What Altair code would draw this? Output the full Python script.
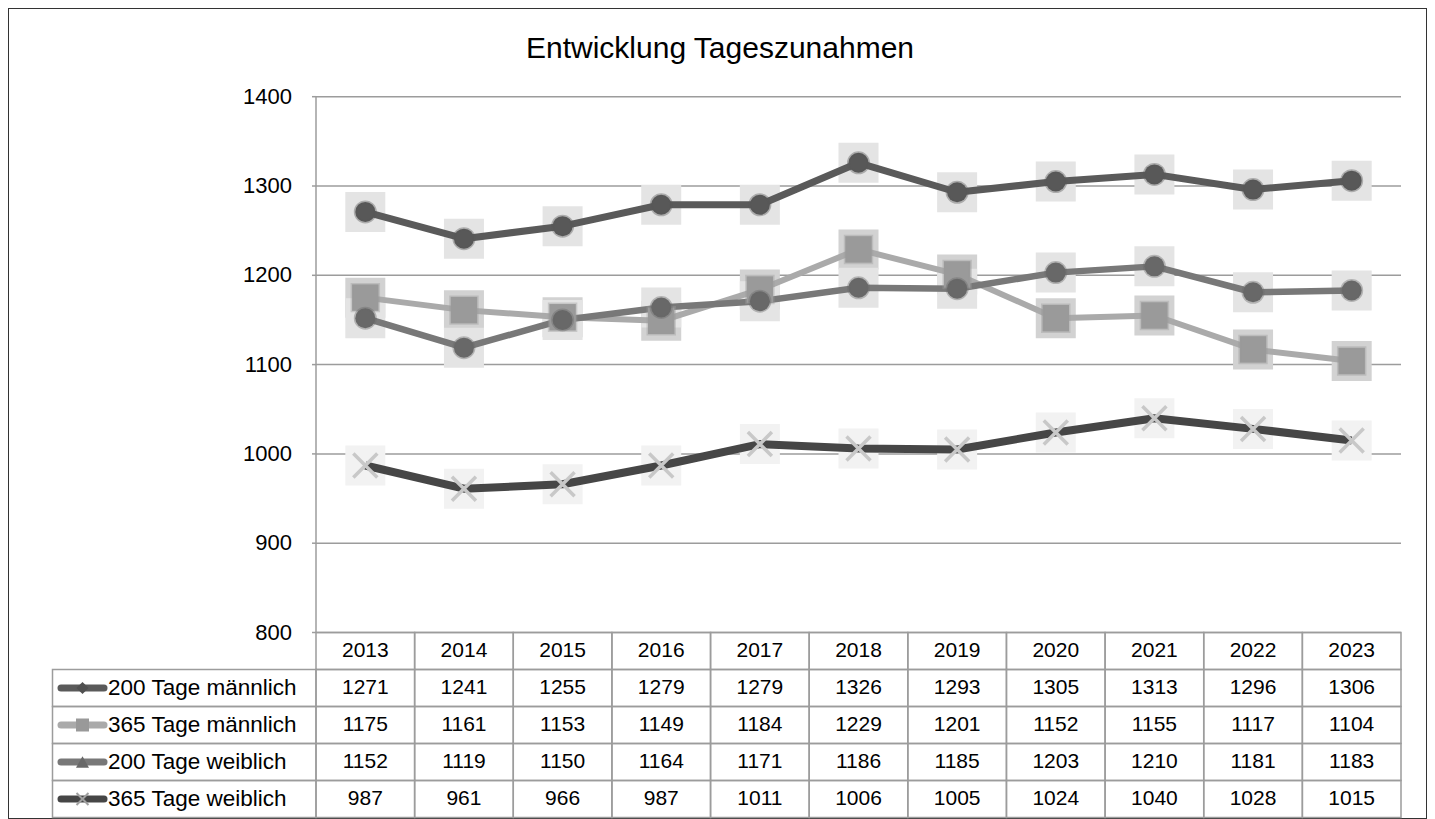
import altair as alt
import pandas as pd

# ---------------- data ----------------
title_text = "Entwicklung Tageszunahmen"
years = [2013, 2014, 2015, 2016, 2017, 2018, 2019, 2020, 2021, 2022, 2023]
series_names = ["200 Tage männlich", "365 Tage männlich", "200 Tage weiblich", "365 Tage weiblich"]
v_200_m = [1271, 1241, 1255, 1279, 1279, 1326, 1293, 1305, 1313, 1296, 1306]
v_365_m = [1175, 1161, 1153, 1149, 1184, 1229, 1201, 1152, 1155, 1117, 1104]
v_200_w = [1152, 1119, 1150, 1164, 1171, 1186, 1185, 1203, 1210, 1181, 1183]
v_365_w = [987, 961, 966, 987, 1011, 1006, 1005, 1024, 1040, 1028, 1015]
y_ticks = [800, 900, 1000, 1100, 1200, 1300, 1400]
header_row = "Jahr"

series_values = [v_200_m, v_365_m, v_200_w, v_365_w]

# ---------------- styles ----------------
FONT = "Liberation Sans"
TXT = "#000000"
line_colors = ["#5a5a5a", "#aaaaaa", "#787878", "#464646"]
line_widths = [7, 6, 6.5, 8]
marker_colors = ["#585858", "#9a9a9a", "#686868", "#c8c8c8"]
halo_colors = ["#e4e4e4", "#d2d2d2", "#e4e4e4", "#f2f2f2"]
grid_color = "#9c9c9c"
X_PATH = "M-1,-1L1,1M-1,1L1,-1"

W, H = 1419, 811
X_RANGE = [308, 1393]
Y_RANGE = [624.5, 88.7]
TABLE_RANGE = [624.5, 809.5]

# ---------------- tables ----------------
long_rows = []
for name, vals in zip(series_names, series_values):
    for yr, v in zip(years, vals):
        long_rows.append({"series": name, "year": yr, "value": v, "row": name, "label": str(v)})
df = pd.DataFrame(long_rows)

header_df = pd.DataFrame({"year": years, "row": header_row, "label": [str(y) for y in years]})

rows_all = [header_row] + series_names
cells = []
for r in rows_all:
    for yr in years:
        cells.append({"row": r, "x0": yr - 0.5, "x1": yr + 0.5})
cells_df = pd.DataFrame(cells)

grid_df = pd.DataFrame({"tick": y_ticks, "x0": years[0] - 0.5, "x1": years[-1] + 0.5})
axis_df = pd.DataFrame({"x0": [years[0] - 0.5], "lo": [y_ticks[0]], "hi": [y_ticks[-1]]})
label_df = pd.DataFrame({"row": series_names, "name": series_names})
title_df = pd.DataFrame({"t": [title_text]})

xs = alt.Scale(domain=[years[0] - 0.5, years[-1] + 0.5], range=X_RANGE)
ys = alt.Scale(domain=[y_ticks[0], y_ticks[-1]], range=Y_RANGE)
band = alt.Scale(type="band", domain=rows_all, range=TABLE_RANGE, paddingInner=0, paddingOuter=0)
pts = alt.Scale(type="point", domain=rows_all, range=TABLE_RANGE, padding=0.5)

layers = []

# gridlines
layers.append(
    alt.Chart(grid_df).mark_rule(color=grid_color, strokeWidth=1.5).encode(
        x=alt.X("x0:Q", scale=xs, axis=None), x2="x1:Q",
        y=alt.Y("tick:Q", scale=ys, axis=None))
)
# y axis line
layers.append(
    alt.Chart(axis_df).mark_rule(color=grid_color, strokeWidth=1.5).encode(
        x=alt.X("x0:Q", scale=xs, axis=None),
        y=alt.Y("lo:Q", scale=ys, axis=None), y2="hi:Q")
)
# tick marks
layers.append(
    alt.Chart(grid_df).mark_rule(color=grid_color, strokeWidth=1.5).encode(
        x=alt.value(304), x2=alt.value(308),
        y=alt.Y("tick:Q", scale=ys, axis=None))
)
# tick labels
layers.append(
    alt.Chart(grid_df).mark_text(font=FONT, fontSize=22, align="right", baseline="middle", color=TXT).encode(
        x=alt.value(284),
        y=alt.Y("tick:Q", scale=ys, axis=None),
        text=alt.Text("tick:Q"))
)

# halos
for i, name in enumerate(series_names):
    layers.append(
        alt.Chart(df).transform_filter(alt.datum.series == name).mark_point(
            shape="square", filled=True, size=1600, color=halo_colors[i], opacity=1).encode(
            x=alt.X("year:Q", scale=xs, axis=None),
            y=alt.Y("value:Q", scale=ys, axis=None))
    )
# lines
for i, name in enumerate(series_names):
    layers.append(
        alt.Chart(df).transform_filter(alt.datum.series == name).mark_line(
            color=line_colors[i], strokeWidth=line_widths[i], strokeJoin="round").encode(
            x=alt.X("year:Q", scale=xs, axis=None),
            y=alt.Y("value:Q", scale=ys, axis=None))
    )
# markers
marker_shapes = ["circle", "square", "circle", X_PATH]
marker_sizes = [400, 700, 400, 576]
for i, name in enumerate(series_names):
    base = alt.Chart(df).transform_filter(alt.datum.series == name)
    if i == 3:
        mk = base.mark_point(shape=X_PATH, size=marker_sizes[i], filled=False,
                             stroke=marker_colors[i], strokeWidth=3.5, opacity=1)
    else:
        mk = base.mark_point(shape=marker_shapes[i], size=marker_sizes[i], filled=True,
                             color=marker_colors[i], opacity=1,
                             stroke=marker_colors[i], strokeWidth=3, strokeOpacity=0.4)
    layers.append(mk.encode(
        x=alt.X("year:Q", scale=xs, axis=None),
        y=alt.Y("value:Q", scale=ys, axis=None)))

# table cells
layers.append(
    alt.Chart(cells_df).mark_rect(fill="white", fillOpacity=0, stroke=grid_color, strokeWidth=1.5).encode(
        x=alt.X("x0:Q", scale=xs, axis=None), x2="x1:Q",
        y=alt.Y("row:N", scale=band, axis=None))
)
# label column cells
layers.append(
    alt.Chart(label_df).mark_rect(fill="white", fillOpacity=0, stroke=grid_color, strokeWidth=1.5).encode(
        x=alt.value(44.5), x2=alt.value(308),
        y=alt.Y("row:N", scale=band, axis=None))
)
# header years
layers.append(
    alt.Chart(header_df).mark_text(font=FONT, fontSize=21, align="center", baseline="middle", color=TXT).encode(
        x=alt.X("year:Q", scale=xs, axis=None),
        y=alt.Y("row:N", scale=pts, axis=None),
        text="label:N")
)
# table values
layers.append(
    alt.Chart(df).mark_text(font=FONT, fontSize=21, align="center", baseline="middle", color=TXT).encode(
        x=alt.X("year:Q", scale=xs, axis=None),
        y=alt.Y("row:N", scale=pts, axis=None),
        text="label:N")
)
# series labels + legend keys
for i, name in enumerate(series_names):
    sub = label_df[label_df["row"] == name]
    layers.append(
        alt.Chart(sub).mark_rule(color=line_colors[i], strokeWidth=7, strokeCap="round").encode(
            x=alt.value(53), x2=alt.value(96),
            y=alt.Y("row:N", scale=pts, axis=None))
    )
    if i == 3:
        km = alt.Chart(sub).mark_point(shape=X_PATH, size=144, filled=False,
                                       stroke="#a0a0a0", strokeWidth=2, opacity=1)
    else:
        kshape = ["diamond", "square", "triangle-up"][i]
        ksize = [150, 169, 170][i]
        kcol = ["#505050", "#999999", "#686868"][i]
        km = alt.Chart(sub).mark_point(shape=kshape, size=ksize, filled=True, color=kcol, opacity=1)
    layers.append(km.encode(x=alt.value(74.5), y=alt.Y("row:N", scale=pts, axis=None)))

layers.append(
    alt.Chart(label_df).mark_text(font=FONT, fontSize=22.5, align="left", baseline="middle", color=TXT).encode(
        x=alt.value(100),
        y=alt.Y("row:N", scale=pts, axis=None),
        text="name:N")
)
# title
layers.append(
    alt.Chart(title_df).mark_text(font=FONT, fontSize=30, align="center", baseline="alphabetic", color=TXT).encode(
        x=alt.value(712), y=alt.value(50), text="t:N")
)

chart = alt.layer(*layers).resolve_scale(y="independent").properties(
    width=W, height=H, padding=0
).configure_view(stroke="#333333", strokeWidth=2)

chart.save("out.html", embed_options={"renderer": "svg", "actions": False})
